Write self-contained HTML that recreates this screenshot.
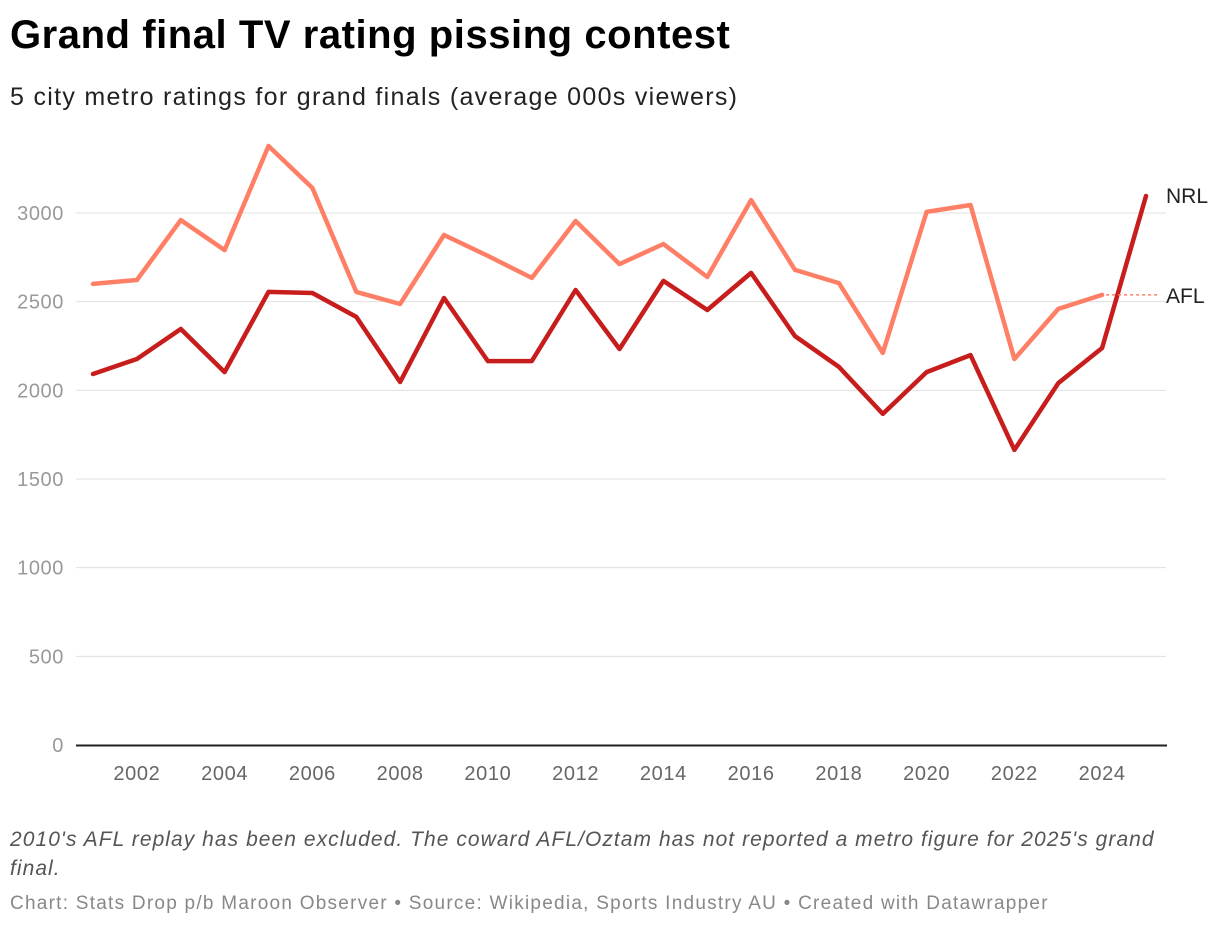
<!DOCTYPE html>
<html><head><meta charset="utf-8"><style>
body{margin:0;background:#fff;font-family:"Liberation Sans",sans-serif;width:1220px;height:928px;overflow:hidden;position:relative}
.t{position:absolute;left:10px;margin:0;white-space:nowrap}
</style></head><body>
<h1 class="t" style="top:13px;font-size:40px;font-weight:bold;color:#000;letter-spacing:0.55px">Grand final TV rating pissing contest</h1>
<div class="t" style="top:83px;font-size:25px;color:#222;letter-spacing:1.3px">5 city metro ratings for grand finals (average 000s viewers)</div>
<svg id="c" width="1220" height="800" style="position:absolute;left:0;top:0"></svg>
<div class="t" style="top:825px;font-size:21px;font-style:italic;color:#555;line-height:29px;width:1165px;white-space:normal;letter-spacing:1.05px">2010's AFL replay has been excluded. The coward AFL/Oztam has not reported a metro figure for 2025's grand final.</div>
<div class="t" style="top:893px;font-size:19px;color:#888;letter-spacing:1.25px">Chart: Stats Drop p/b Maroon Observer • Source: Wikipedia, Sports Industry AU • Created with Datawrapper</div>
<script>
const years=[2001,2002,2003,2004,2005,2006,2007,2008,2009,2010,2011,2012,2013,2014,2015,2016,2017,2018,2019,2020,2021,2022,2023,2024,2025];
const afl=[2600,2622,2960,2791,3378,3141,2555,2487,2876,2758,2634,2955,2712,2825,2639,3073,2679,2605,2211,3006,3045,2177,2459,2538,null];
const nrl=[2092,2177,2346,2103,2555,2549,2414,2047,2521,2165,2165,2566,2233,2617,2453,2662,2306,2132,1867,2103,2199,1664,2041,2239,3096];
const yTicks=[0,500,1000,1500,2000,2500,3000];
const xTicks=[2002,2004,2006,2008,2010,2012,2014,2016,2018,2020,2022,2024];
const ns="http://www.w3.org/2000/svg",svg=document.getElementById('c');
const x=yr=>93+(yr-2001)*43.875, y=v=>745-v*0.17733;
function mk(t,a){const e=document.createElementNS(ns,t);for(const k in a)e.setAttribute(k,a[k]);svg.appendChild(e);return e;}
yTicks.forEach(v=>{
 if(v>0){const g=mk('line',{x1:76,x2:1166,y1:y(v),y2:y(v),stroke:'#e0e0e0','stroke-width':1});
 
 }
 const t=mk('text',{x:64,y:y(v)+7,'text-anchor':'end','font-size':20,fill:'#999','font-family':'Liberation Sans','letter-spacing':0.6});t.textContent=v;
 
 
});
xTicks.forEach(yr=>{const t=mk('text',{x:x(yr),y:780,'text-anchor':'middle','font-size':20,fill:'#666','font-family':'Liberation Sans','letter-spacing':0.6});t.textContent=yr;
 
 });
const ax=mk('line',{x1:76,x2:1167,y1:745.5,y2:745.5,stroke:'#222','stroke-width':2});


function path(arr){let d='';arr.forEach((v,i)=>{if(v==null)return;d+=(d?'L':'M')+x(years[i]).toFixed(1)+','+y(v).toFixed(1);});return d;}
const la=mk('path',{d:path(afl),fill:'none',stroke:'#ff7f66','stroke-width':4.5,'stroke-linejoin':'round','stroke-linecap':'round'});


const ln=mk('path',{d:path(nrl),fill:'none',stroke:'#c71e1d','stroke-width':4.5,'stroke-linejoin':'round','stroke-linecap':'round'});


const lastA=afl[23];
const dl=mk('line',{x1:x(2024)+4,x2:1160,y1:y(lastA),y2:y(lastA),stroke:'#ff7f66','stroke-width':1.5,'stroke-dasharray':'3,3'});


const ta=mk('text',{x:1166,y:y(lastA)+8,'font-size':21,fill:'#222','font-family':'Liberation Sans'});ta.textContent='AFL';


const tn=mk('text',{x:1166,y:y(nrl[24])+7,'font-size':21,fill:'#222','font-family':'Liberation Sans'});tn.textContent='NRL';


</script>
</body></html>
